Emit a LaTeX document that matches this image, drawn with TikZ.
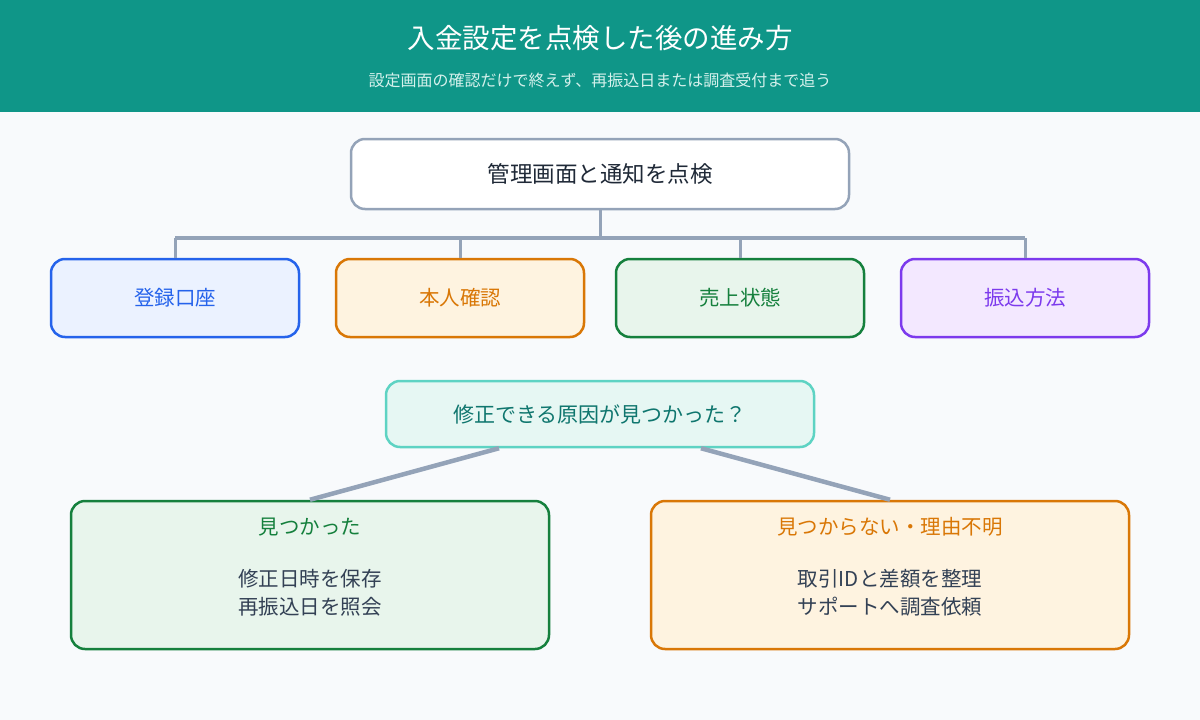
\documentclass[tikz,border=0pt]{standalone}
\usepackage{fontspec}
\setmainfont{Noto Sans CJK JP}
\usepackage{xcolor}
\usetikzlibrary{positioning}

\definecolor{headbg}{HTML}{0F9688}
\definecolor{pagebg}{HTML}{F8FAFC}
\definecolor{linegray}{HTML}{94A3B8}
\definecolor{darktext}{HTML}{1F2937}
\definecolor{bodytext}{HTML}{334155}
\definecolor{bluec}{HTML}{2563EB}
\definecolor{bluef}{HTML}{EBF2FF}
\definecolor{orangec}{HTML}{D97706}
\definecolor{orangef}{HTML}{FEF3E0}
\definecolor{greenc}{HTML}{15803D}
\definecolor{greenf}{HTML}{E8F5EC}
\definecolor{purplec}{HTML}{7C3AED}
\definecolor{purplef}{HTML}{F3E8FF}
\definecolor{tealc}{HTML}{5ED3C3}
\definecolor{tealf}{HTML}{E6F7F3}
\definecolor{tealt}{HTML}{0F766E}
\definecolor{subtext}{HTML}{D5F1EC}

\begin{document}
\begin{tikzpicture}[
  x=1pt, y=-1pt,
  rootbox/.style={rectangle, draw=linegray, line width=2.5pt, rounded corners=14pt, fill=white, minimum width=498pt, minimum height=70pt, text=darktext, font=\fontsize{22.5}{26}\selectfont},
  check/.style={rectangle, line width=2.5pt, rounded corners=14pt, minimum width=248pt, minimum height=78pt, font=\fontsize{20.5}{24}\selectfont},
  question/.style={rectangle, draw=tealc, line width=2.5pt, rounded corners=14pt, fill=tealf, minimum width=428pt, minimum height=66pt, text=tealt, font=\fontsize{21}{24}\selectfont},
  result/.style={rectangle, line width=2.5pt, rounded corners=14pt, minimum width=478pt, minimum height=148pt},
  resulttitle/.style={font=\fontsize{20.5}{24}\selectfont},
  resultbody/.style={align=center, text=bodytext, font=\fontsize{20.5}{28}\selectfont},
  tree/.style={draw=linegray, line width=3pt},
  bar/.style={draw=linegray, line width=4.5pt}
]
  \useasboundingbox (0,0) rectangle (1200,720);
  \fill[pagebg] (0,0) rectangle (1200,720);
  \fill[headbg] (0,0) rectangle (1200,112);
  \node[text=white, font=\fontsize{27.5}{32}\selectfont] (title) at (600,38) {入金設定を点検した後の進み方};
  \node[text=subtext, font=\fontsize{16}{19}\selectfont] (subtitle) at (600,80) {設定画面の確認だけで終えず、再振込日または調査受付まで追う};

  \node[rootbox] (root) at (600,174) {管理画面と通知を点検};

  \node[check, draw=bluec, fill=bluef, text=bluec] (account) at (175,298) {登録口座};
  \node[check, draw=orangec, fill=orangef, text=orangec] (identity) at (460,298) {本人確認};
  \node[check, draw=greenc, fill=greenf, text=greenc] (sales) at (740,298) {売上状態};
  \node[check, draw=purplec, fill=purplef, text=purplec] (method) at (1025,298) {振込方法};

  \coordinate (hub) at (600,238);
  \draw[tree] (root.south) -- (hub);
  \draw[bar] (hub -| account.north) -- (hub -| method.north);
  \foreach \n in {account, identity, sales, method}
    \draw[tree] (hub -| \n.north) -- (\n.north);

  \node[question] (cause) at (600,414) {修正できる原因が見つかった？};

  \node[result, draw=greenc, fill=greenf] (found) at (310,575) {};
  \node[resulttitle, text=greenc] (foundtitle) at ([yshift=-27pt]found.north) {見つかった};
  \node[resultbody] (foundbody) at ([yshift=-93pt]found.north) {修正日時を保存\\再振込日を照会};

  \node[result, draw=orangec, fill=orangef] (notfound) at (890,575) {};
  \node[resulttitle, text=orangec] (notfoundtitle) at ([yshift=-27pt]notfound.north) {見つからない・理由不明};
  \node[resultbody] (notfoundbody) at ([yshift=-93pt]notfound.north) {取引IDと差額を整理\\サポートへ調査依頼};

  \draw[bar] ([xshift=-101pt]cause.south) -- (found.north);
  \draw[bar] ([xshift=101pt]cause.south) -- (notfound.north);
\end{tikzpicture}
\end{document}
